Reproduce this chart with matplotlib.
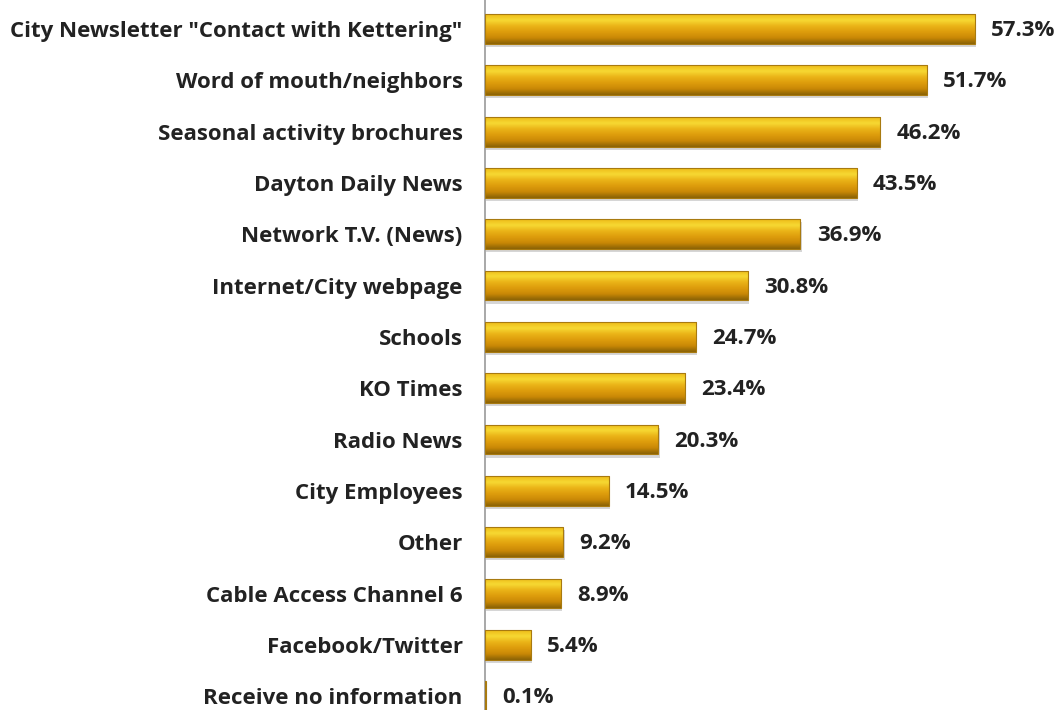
import numpy as np
import matplotlib
matplotlib.use("Agg")
import matplotlib.pyplot as plt
from matplotlib.colors import LinearSegmentedColormap

categories = [
    'City Newsletter "Contact with Kettering"',
    "Word of mouth/neighbors",
    "Seasonal activity brochures",
    "Dayton Daily News",
    "Network T.V. (News)",
    "Internet/City webpage",
    "Schools",
    "KO Times",
    "Radio News",
    "City Employees",
    "Other",
    "Cable Access Channel 6",
    "Facebook/Twitter",
    "Receive no information",
]
values = [57.3, 51.7, 46.2, 43.5, 36.9, 30.8, 24.7, 23.4, 20.3, 14.5, 9.2, 8.9, 5.4, 0.1]

FONT = "Open Sans"
BAR_H = 0.58

gold = LinearSegmentedColormap.from_list(
    "gold", ["#eebb18", "#f7d933", "#eab317", "#dd9c0c", "#c98806", "#8a6205"])

fig = plt.figure(figsize=(10.63, 7.10), dpi=100)
ax = fig.add_axes([0.456, 0.0, 0.544, 1.0])

y = np.arange(len(categories))
grad = np.linspace(0, 1, 64).reshape(-1, 1)

for yi, v in zip(y, values):
    # soft shadow under each bar
    ax.barh(yi + 0.06, v, height=BAR_H, left=0.15, color="#d6d6d6", zorder=1, lw=0)
    b = ax.barh(yi, v, height=BAR_H, color="none", edgecolor="#a87a10", lw=0.8, zorder=3)[0]
    im = ax.imshow(grad, cmap=gold, aspect="auto", zorder=2,
                   extent=[0, v, yi + BAR_H / 2, yi - BAR_H / 2], interpolation="bicubic")
    im.set_clip_path(b)
    ax.text(v + 1.9, yi + 0.03, f"{v:.1f}%", va="center", ha="left",
            fontsize=16, fontweight="bold", color="#222222", family=FONT)

ax.set_xlim(0, 67.6)
ax.set_ylim(13.27, -0.565)
ax.set_yticks(y)
ax.set_yticklabels(categories, fontsize=16, fontweight="bold", family=FONT, color="#222222")
ax.tick_params(axis="y", length=0, pad=16)
ax.set_xticks([])
for s in ["top", "right", "bottom"]:
    ax.spines[s].set_visible(False)
ax.spines["left"].set_color("#999999")
ax.spines["left"].set_linewidth(1.2)

fig.savefig("out.png", dpi=100)
